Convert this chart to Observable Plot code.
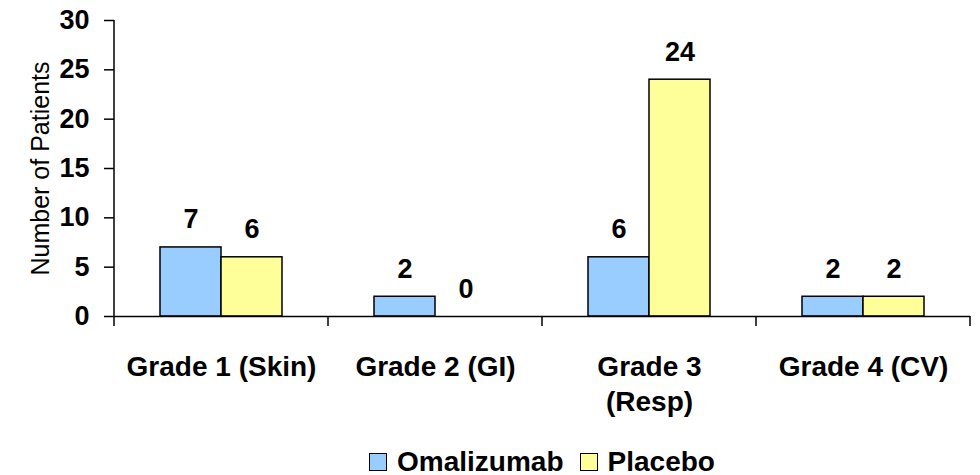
<!DOCTYPE html>
<html><head><meta charset="utf-8">
<script src="https://cdn.jsdelivr.net/npm/d3@7"></script>
<script src="https://cdn.jsdelivr.net/npm/@observablehq/plot@0.6"></script>
<style>
body{margin:0;background:#fff;font-family:"Liberation Sans", Arial, sans-serif;}
#legend{width:858px;padding:8px 9px 0 113px;display:flex;justify-content:center;align-items:center;height:27px;font:bold 28px "Liberation Sans", Arial, sans-serif;color:#000;}
#legend .item{display:flex;align-items:center;margin:0 8px;}
#legend .sw{display:inline-block;width:16px;height:16px;border:1px solid #000;margin-right:10px;}
g[aria-label="y-axis label"] text{font-weight:normal;font-size:25px;}
</style></head><body><div id="chart"></div><div id="legend"></div>
<script>
const categories = ["Grade 1 (Skin)", "Grade 2 (GI)", "Grade 3 (Resp)", "Grade 4 (CV)"];
const categoryLabels = ["Grade 1 (Skin)", "Grade 2 (GI)", "Grade 3\n(Resp)", "Grade 4 (CV)"];
const series = ["Omalizumab", "Placebo"];
const omalizumab = [7, 2, 6, 2];
const placebo = [6, 0, 24, 2];
const colors = ["#99CCFF", "#FFFF99"];
const yTicks = [0, 5, 10, 15, 20, 25, 30];

const data = categories.flatMap((c, i) => [
  {cat: c, series: series[0], value: omalizumab[i]},
  {cat: c, series: series[1], value: placebo[i]}
]);

const plot = Plot.plot({
  width: 980, height: 440,
  marginLeft: 113, marginRight: 9, marginTop: 20, marginBottom: 124,
  style: {fontFamily: '"Liberation Sans", Arial, sans-serif', fontSize: "27px", fontWeight: "bold", color: "#000", background: "#fff", overflow: "visible"},
  fx: {domain: categories, padding: 0, label: null},
  x: {domain: series, paddingInner: 0, paddingOuter: 0.734, axis: null},
  y: {domain: [0, 30]},
  color: {domain: series, range: colors},
  marks: [
    Plot.barY(data, {fx: "cat", x: "series", y: "value", fill: "series", stroke: "#000", strokeWidth: 1.5}),
    Plot.text(data, {fx: "cat", x: "series", y: "value", text: d => String(d.value), dy: -19, lineAnchor: "bottom", fontSize: 27, fontWeight: "bold", fill: "#000"}),
    Plot.ruleY([0], {stroke: "#000", strokeWidth: 1.5}),
    Plot.axisY({ticks: yTicks, tickSize: 10, tickPadding: 15, label: "Number of Patients", labelAnchor: "center", labelOffset: 83, labelArrow: "none", strokeWidth: 1.5}),
    Plot.axisFx({anchor: "bottom", tickSize: 0, tickPadding: 35, fontSize: 28, tickFormat: d => categoryLabels[categories.indexOf(d)], lineHeight: 1.25, label: null})
  ]
});

// axis line and category boundary ticks from the library's scales
const fx = plot.scale("fx"), y = plot.scale("y");
const svg = d3.select(plot);
const y0 = y.apply(0), yTop = y.apply(yTicks[yTicks.length - 1]);
const bounds = categories.map(d => fx.apply(d));
bounds.push(fx.apply(categories[categories.length - 1]) + fx.step);
const g = svg.append("g").attr("stroke", "#000").attr("stroke-width", 1.5);
g.append("line").attr("x1", bounds[0]).attr("x2", bounds[0]).attr("y1", y0).attr("y2", yTop);
bounds.forEach(b => g.append("line").attr("x1", b).attr("x2", b).attr("y1", y0).attr("y2", y0 + 10));

document.getElementById("chart").appendChild(plot);

const legend = document.getElementById("legend");
series.forEach((s, i) => {
  const item = document.createElement("span");
  item.className = "item";
  const sw = document.createElement("span");
  sw.className = "sw";
  sw.style.background = colors[i];
  item.appendChild(sw);
  item.appendChild(document.createTextNode(s));
  legend.appendChild(item);
});
</script></body></html>
